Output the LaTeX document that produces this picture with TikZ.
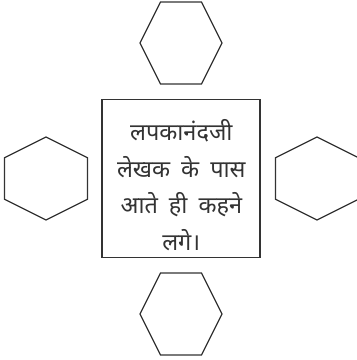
\documentclass[tikz,border=0pt]{standalone}
\usepackage{fontspec}
\newfontfamily\devfont[Script=Devanagari,WordSpace=1.8]{Noto Sans}
\definecolor{ink}{HTML}{333333}
\begin{document}
\begin{tikzpicture}[x=1pt,y=1pt,
  hex/.style={draw=ink,line width=1.3pt,line join=miter},
  box/.style={draw=ink,line width=1.6pt,minimum width=158pt,minimum height=158pt,inner sep=0pt},
  txt/.style={text=ink,font=\devfont\fontsize{23.5}{36.5}\selectfont,align=center}]
\useasboundingbox (0,0) rectangle (357,360);
% central box
\node[box] (card) at (181.3,181.5) {};
\node[txt] (label) at (181.3,175) {लपकानंदजी\\लेखक के पास\\आते ही कहने\\लगे।};
% hexagons
\coordinate (htop) at (181,317);
\coordinate (hbot) at (181,46);
\coordinate (hleft) at (46,181.5);
\coordinate (hright) at (317,181.5);
\draw[hex] (htop) ++(-41,0) -- ++(20.5,41) -- ++(41,0) -- ++(20.5,-41) -- ++(-20.5,-41) -- ++(-41,0) -- cycle;
\draw[hex] (hbot) ++(-41,0) -- ++(20.5,41) -- ++(41,0) -- ++(20.5,-41) -- ++(-20.5,-41) -- ++(-41,0) -- cycle;
\draw[hex] (hleft) ++(0,41.5) -- ++(41.5,-20.75) -- ++(0,-41.5) -- ++(-41.5,-20.75) -- ++(-41.5,20.75) -- ++(0,41.5) -- cycle;
\draw[hex] (hright) ++(0,41.5) -- ++(41.5,-20.75) -- ++(0,-41.5) -- ++(-41.5,-20.75) -- ++(-41.5,20.75) -- ++(0,41.5) -- cycle;
\end{tikzpicture}
\end{document}
